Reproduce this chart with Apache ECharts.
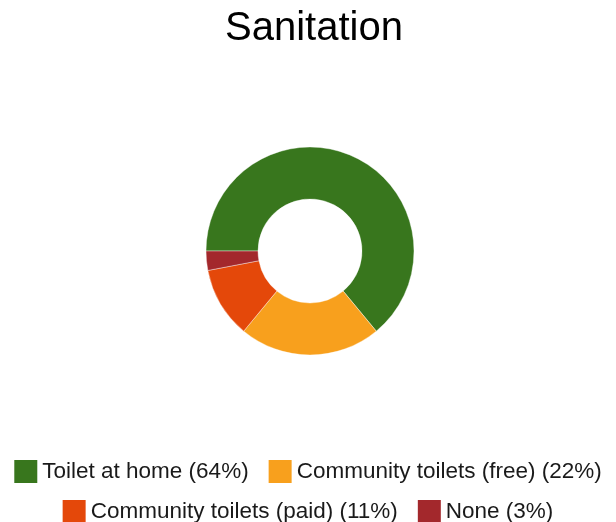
<!DOCTYPE html>
<html>
<head>
<meta charset="utf-8">
<script src="https://cdn.jsdelivr.net/npm/echarts@6/dist/echarts.min.js"></script>
<style>
  html, body { margin: 0; padding: 0; background: #fff; }
  #chart { width: 616px; height: 522px; }
</style>
</head>
<body>
<div id="chart"></div>
<script>
// Sanitation access shares
const categories = ['Toilet at home', 'Community toilets (free)', 'Community toilets (paid)', 'None'];
const values = [64, 22, 11, 3];
const colors = ['#38761d', '#f8a01d', '#e4480a', '#a3282c'];

const total = values.reduce((a, b) => a + b, 0);
const pctOf = {};
categories.forEach((c, i) => { pctOf[c] = Math.round(values[i] / total * 100); });

const fontFamily = 'Arial, "Liberation Sans", sans-serif';
const legendBase = {
  orient: 'horizontal',
  left: 'center',
  itemWidth: 23,
  itemHeight: 23,
  itemGap: 20,
  padding: 0,
  icon: 'rect',
  selectedMode: false,
  itemStyle: { borderWidth: 0 },
  textStyle: { fontSize: 22.5, color: '#1a1a1a', fontFamily },
  formatter: name => `${name} (${pctOf[name]}%)`
};

const chart = echarts.init(document.getElementById('chart'), null, { renderer: 'canvas' });
chart.setOption({
  animation: false,
  color: colors,
  title: {
    text: 'Sanitation',
    left: 220,
    top: 4,
    textStyle: { fontSize: 40, fontWeight: 'normal', color: '#000', fontFamily }
  },
  legend: [
    Object.assign({}, legendBase, { top: 460, data: categories.slice(0, 2) }),
    Object.assign({}, legendBase, { top: 500, data: categories.slice(2) })
  ],
  series: [{
    type: 'pie',
    center: [310, 251],
    radius: [52, 104],
    startAngle: 180,
    clockwise: true,
    label: { show: false },
    labelLine: { show: false },
    emphasis: { disabled: true },
    itemStyle: { borderColor: '#fff', borderWidth: 0.4 },
    data: categories.map((c, i) => ({ name: c, value: values[i] }))
  }]
});
</script>
</body>
</html>
